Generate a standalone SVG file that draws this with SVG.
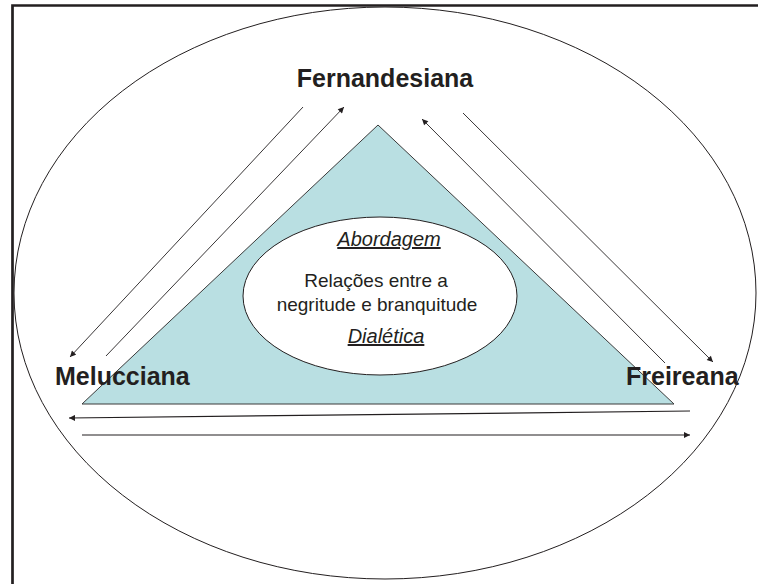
<svg xmlns="http://www.w3.org/2000/svg" width="762" height="584" viewBox="0 0 762 584">
<defs>
<marker id="ah" viewBox="0 0 10 10" refX="10" refY="5" markerWidth="7" markerHeight="6" markerUnits="userSpaceOnUse" orient="auto">
<path d="M0,0 L10,5 L0,10 z" fill="#231f20"/>
</marker>
<style>
.lbl{font-family:"Liberation Sans",Arial,sans-serif;font-weight:bold;font-size:25px;fill:#231f20}
.it{font-family:"Liberation Sans",Arial,sans-serif;font-style:italic;font-size:20px;fill:#231f20;text-decoration:underline}
.tx{font-family:"Liberation Sans",Arial,sans-serif;font-size:19px;fill:#231f20}
.con{stroke:#231f20;stroke-width:0.9;fill:none;marker-end:url(#ah)}
</style>
</defs>
<rect width="762" height="584" fill="#fff"/>
<path d="M12.5,584 L12.5,5.5 L758,5.5" fill="none" stroke="#231f20" stroke-width="2.7"/>
<g id="outer">
<ellipse cx="385" cy="293" rx="371" ry="286" fill="none" stroke="#231f20" stroke-width="1"/>
</g>
<g id="triangle">
<polygon points="378,125 82,404 674,404" fill="#b9dfe2" stroke="#3a3a3a" stroke-width="1"/>
</g>
<g id="center">
<ellipse cx="380" cy="296" rx="137" ry="79" fill="#fff" stroke="#231f20" stroke-width="1"/>
<text class="it" x="389" y="246" text-anchor="middle">Abordagem</text>
<text class="tx" x="376" y="287" text-anchor="middle">Relações entre a</text>
<text class="tx" x="377" y="311" text-anchor="middle">negritude e branquitude</text>
<text class="it" x="386" y="343" text-anchor="middle">Dialética</text>
</g>
<g id="fernandesiana">
<text class="lbl" x="385" y="87" text-anchor="middle">Fernandesiana</text>
</g>
<g id="melucciana">
<text class="lbl" x="55" y="385">Melucciana</text>
</g>
<g id="freireana">
<text class="lbl" x="626" y="385">Freireana</text>
</g>
<g id="connectors">
<line class="con" x1="303" y1="107" x2="70" y2="357"/>
<line class="con" x1="106" y1="356" x2="344" y2="107"/>
<line class="con" x1="665" y1="363" x2="422" y2="119"/>
<line class="con" x1="463" y1="113" x2="713" y2="362"/>
<line class="con" x1="690" y1="411" x2="69" y2="418" style="stroke-width:1.2"/>
<line class="con" x1="82" y1="435" x2="690" y2="435" style="stroke-width:1.2"/>
</g>
</svg>
